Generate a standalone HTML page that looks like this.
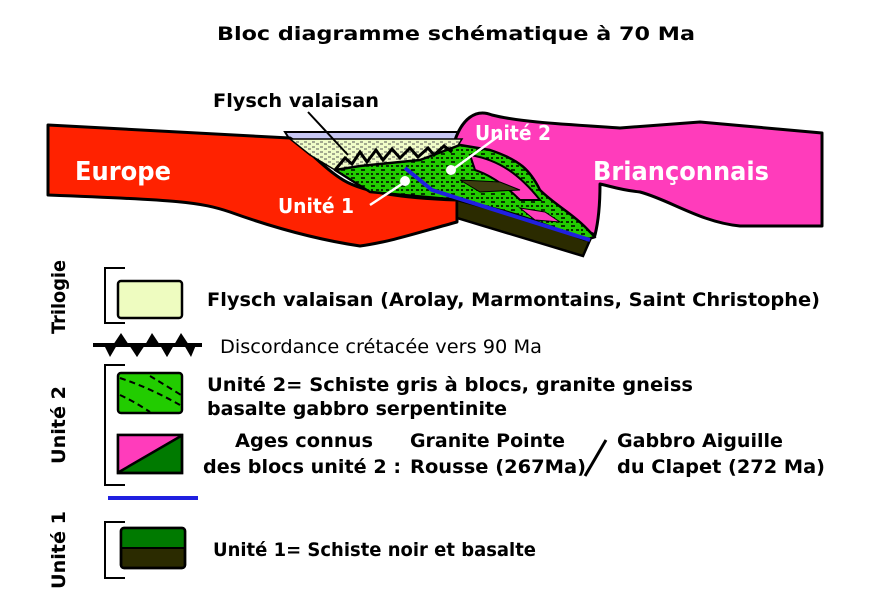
<!DOCTYPE html>
<html><head><meta charset="utf-8"><style>
html,body{margin:0;padding:0;background:#fff;}
svg{display:block;}
text{font-family:"DejaVu Sans","Liberation Sans",sans-serif;}
.b{font-weight:bold;font-size:19px;fill:#000;}
.w{font-weight:bold;fill:#fff;}
</style></head><body>
<svg width="874" height="615" viewBox="0 0 874 615" xmlns="http://www.w3.org/2000/svg">
<defs>
<pattern id="gp" width="10" height="8" patternUnits="userSpaceOnUse">
<rect width="10" height="8" fill="#22cc00"/>
<path d="M1 2h4M6 6h3M2 5v2" stroke="#000" stroke-width="1.6"/>
</pattern>
<pattern id="fp" width="8" height="5" patternUnits="userSpaceOnUse">
<rect width="8" height="5" fill="#f0fcc8"/>
<path d="M0 2h3M4 4h3" stroke="#555" stroke-width="1"/>
</pattern>
</defs>
<text x="456" y="40" text-anchor="middle" class="b" font-size="22" textLength="478" lengthAdjust="spacingAndGlyphs">Bloc diagramme schématique  à 70 Ma</text>
<text x="213" y="107" class="b" font-size="19" textLength="166" lengthAdjust="spacingAndGlyphs">Flysch valaisan</text>
<polygon points="285,132 462,132 462,140 290,140" fill="#c8c8f4" stroke="#000" stroke-width="2"/>
<path d="M48,125 L290,138 C310,150 320,165 340,178 C360,192 400,198 457,200 L457,222 C420,232 390,242 360,246 C320,240 280,230 230,212 C200,202 180,200 48,195 Z" fill="#ff2200" stroke="#000" stroke-width="3" stroke-linejoin="round"/>
<path d="M455,140 C462,120 475,108 492,115 C520,122 560,124 620,128 L700,122 L822,133 L822,226 L740,226 C700,222 670,200 640,192 C620,190 610,186 600,184 Q600,215 595,235 L530,205 L470,158 Z" fill="#ff3cbb" stroke="#000" stroke-width="3" stroke-linejoin="round"/>
<polygon points="457,200 457,218 583,256 590,240 540,222" fill="#2b2b00" stroke="#000" stroke-width="2.5"/>
<polygon points="290,139 462,139 455,150 420,160 360,166 335,170 310,155" fill="url(#fp)" stroke="#000" stroke-width="1.5"/>
<path d="M335,170 L360,166 L420,160 L460,145 L490,150 C520,160 530,170 540,190 C555,205 575,215 590,232 L595,237 L585,240 C555,228 520,215 500,210 L460,200 L370,192 Z" fill="url(#gp)" stroke="#000" stroke-width="2.5" stroke-linejoin="round"/>
<path d="M470,155 C500,160 520,175 540,200 L520,200 C505,185 490,175 475,170 Z" fill="#ff3cbb" stroke="#000" stroke-width="2"/>
<path d="M460,180 L500,182 L520,190 L480,192 Z" fill="#3d3d10" stroke="#000" stroke-width="1"/>
<path d="M520,208 L545,212 L560,222 L535,220 Z" fill="#ff3cbb" stroke="#000" stroke-width="1"/>
<path d="M335,170 L345,158 L352,164 L360,152 L367,162 L376,150 L383,160 L392,149 L400,158 L410,148 L418,157 L428,148 L434,155 L444,146 L452,152" fill="none" stroke="#000" stroke-width="3"/>
<polyline points="405,168 432,190 590,240" fill="none" stroke="#2020e0" stroke-width="4"/>
<line x1="308" y1="112" x2="348" y2="155" stroke="#000" stroke-width="2"/>
<line x1="370" y1="205" x2="405" y2="182" stroke="#fff" stroke-width="2.5"/>
<circle cx="405" cy="181" r="5" fill="#fff"/>
<line x1="452" y1="170" x2="500" y2="135" stroke="#fff" stroke-width="2.5"/>
<circle cx="451" cy="170" r="5" fill="#fff"/>
<text x="75" y="180" class="w" font-size="26" textLength="96" lengthAdjust="spacingAndGlyphs">Europe</text>
<text x="593" y="180" class="w" font-size="26" textLength="176" lengthAdjust="spacingAndGlyphs">Briançonnais</text>
<text x="278" y="213" class="w" font-size="20" textLength="76" lengthAdjust="spacingAndGlyphs">Unité 1</text>
<text x="475" y="140" class="w" font-size="20" textLength="76" lengthAdjust="spacingAndGlyphs">Unité 2</text>
<g stroke="#000" stroke-width="2" fill="none">
<polyline points="125,268 105,268 105,323 125,323"/>
<polyline points="125,365 105,365 105,485 125,485"/>
<polyline points="125,522 105,522 105,578 125,578"/>
</g>
<text transform="translate(65,297) rotate(-90)" text-anchor="middle" class="b" font-size="19" textLength="74" lengthAdjust="spacingAndGlyphs">Trilogie</text>
<text transform="translate(65,425) rotate(-90)" text-anchor="middle" class="b" font-size="19" textLength="78" lengthAdjust="spacingAndGlyphs">Unité 2</text>
<text transform="translate(65,550) rotate(-90)" text-anchor="middle" class="b" font-size="19" textLength="78" lengthAdjust="spacingAndGlyphs">Unité 1</text>
<rect x="118" y="281" width="64" height="37" rx="3" fill="#eefcc0" stroke="#000" stroke-width="2.5"/>
<text x="207" y="306" class="b" textLength="613" lengthAdjust="spacingAndGlyphs">Flysch valaisan (Arolay, Marmontains, Saint Christophe)</text>
<line x1="93" y1="345" x2="202" y2="345" stroke="#000" stroke-width="4"/>
<path d="M113,345 L121,333 L129,345 L137,357 L145,345 L152,333 L160,345 L167,357 L174,345 L181,333 L189,345 Z" fill="#000"/>
<path d="M104,345 L110,357 L117,345 Z M130,345 L137,357 L144,345 Z M160,345 L167,357 L174,345 Z M184,345 L191,357 L196,345 Z" fill="#000"/>
<text x="220" y="353" font-size="19" fill="#000" textLength="322" lengthAdjust="spacingAndGlyphs">Discordance crétacée vers 90 Ma</text>
<rect x="118" y="373" width="64" height="40" rx="3" fill="#22cc00" stroke="#000" stroke-width="2.5"/>
<path d="M120,378 Q150,388 180,405 M150,376 Q165,385 181,395 M120,395 Q135,402 150,412" fill="none" stroke="#000" stroke-width="2" stroke-dasharray="6,4"/>
<text x="207" y="391" class="b" textLength="486" lengthAdjust="spacingAndGlyphs">Unité 2= Schiste  gris à blocs, granite gneiss</text>
<text x="207" y="415" class="b" textLength="300" lengthAdjust="spacingAndGlyphs">basalte gabbro serpentinite</text>
<rect x="118" y="435" width="64" height="38" fill="#007a00" stroke="#000" stroke-width="2.5"/>
<polygon points="119,436 181,436 119,472" fill="#ff3cbb"/>
<line x1="119" y1="472" x2="181" y2="436" stroke="#000" stroke-width="2.5"/>
<rect x="118" y="435" width="64" height="38" fill="none" stroke="#000" stroke-width="2.5"/>
<text x="235" y="447" class="b" textLength="138" lengthAdjust="spacingAndGlyphs">Ages connus</text>
<text x="203" y="473" class="b" textLength="198" lengthAdjust="spacingAndGlyphs">des blocs unité 2 :</text>
<text x="410" y="447" class="b" textLength="155" lengthAdjust="spacingAndGlyphs">Granite Pointe</text>
<text x="410" y="473" class="b" textLength="176" lengthAdjust="spacingAndGlyphs">Rousse (267Ma)</text>
<line x1="585" y1="476" x2="606" y2="440" stroke="#000" stroke-width="3"/>
<text x="617" y="447" class="b" textLength="166" lengthAdjust="spacingAndGlyphs">Gabbro Aiguille</text>
<text x="617" y="473" class="b" textLength="208" lengthAdjust="spacingAndGlyphs">du Clapet (272 Ma)</text>
<line x1="108" y1="498" x2="198" y2="498" stroke="#2020e0" stroke-width="4"/>
<rect x="121" y="528" width="64" height="40" rx="3" fill="#2b2b00" stroke="#000" stroke-width="2.5"/>
<path d="M122,548 L122,532 Q122,529 125,529 L181,529 Q184,529 184,532 L184,548 Z" fill="#007a00"/>
<line x1="121" y1="548" x2="185" y2="548" stroke="#000" stroke-width="2"/>
<rect x="121" y="528" width="64" height="40" rx="3" fill="none" stroke="#000" stroke-width="2.5"/>
<text x="213" y="556" class="b" textLength="323" lengthAdjust="spacingAndGlyphs">Unité 1= Schiste  noir et basalte</text>
</svg>
</body></html>
